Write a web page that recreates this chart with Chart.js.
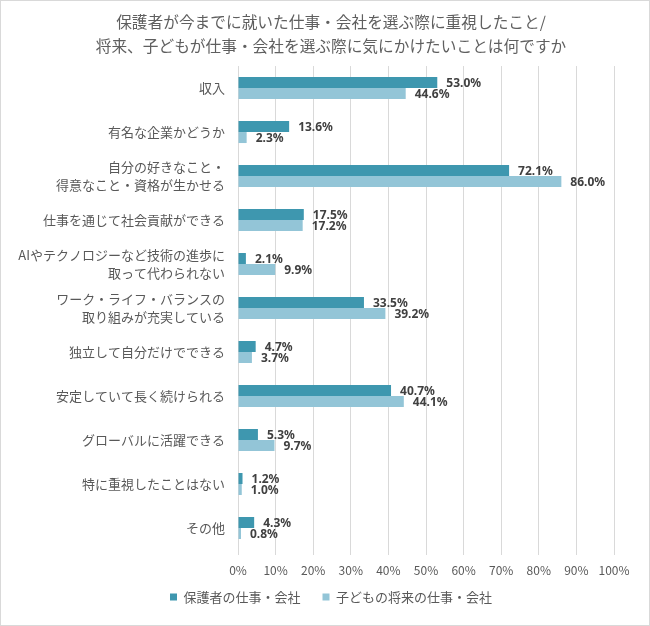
<!DOCTYPE html>
<html>
<head>
<meta charset="utf-8">
<script src="https://cdn.jsdelivr.net/npm/chart.js@4"></script>
<style>
  html, body { margin: 0; padding: 0; background: #fff; }
  #wrap { width: 650px; height: 626px; }
</style>
</head>
<body>
<div id="wrap"><canvas id="myChart" width="650" height="626"></canvas></div>
<script>
const ctx = document.getElementById('myChart');

const titleLines = [
    '保護者が今までに就いた仕事・会社を選ぶ際に重視したこと/',
    '将来、子どもが仕事・会社を選ぶ際に気にかけたいことは何ですか'
];

const categories = [
    '収入',
    '有名な企業かどうか',
    ['自分の好きなこと・', '得意なこと・資格が生かせる'],
    '仕事を通じて社会貢献ができる',
    ['AIやテクノロジーなど技術の進歩に', '取って代わられない'],
    ['ワーク・ライフ・バランスの', '取り組みが充実している'],
    '独立して自分だけでできる',
    '安定していて長く続けられる',
    'グローバルに活躍できる',
    '特に重視したことはない',
    'その他'
];

const seriesNames = ['保護者の仕事・会社', '子どもの将来の仕事・会社'];
const parentValues = [53.0, 13.6, 72.1, 17.5, 2.1, 33.5, 4.7, 40.7, 5.3, 1.2, 4.3];
const childValues = [44.6, 2.3, 86.0, 17.2, 9.9, 39.2, 3.7, 44.1, 9.7, 1.0, 0.8];

const tickValues = [0, 10, 20, 30, 40, 50, 60, 70, 80, 90, 100];

Chart.defaults.font.family = '"Noto Sans CJK JP", "Noto Sans", sans-serif';
Chart.defaults.color = '#595959';

// white background + thin gray frame
const frame = {
    id: 'frame',
    beforeDraw(chart) {
        const c = chart.ctx;
        c.save();
        c.fillStyle = '#ffffff';
        c.fillRect(0, 0, chart.width, chart.height);
        c.strokeStyle = '#d9d9d9';
        c.lineWidth = 1;
        c.strokeRect(0.5, 0.5, chart.width - 1, chart.height - 1);
        c.restore();
    }
};

// title and legend sit a bit right of the canvas centre in the original
const nudge = {
    id: 'nudge',
    afterLayout(chart) {
        const t = chart.titleBlock, l = chart.legend;
        t.left += 24; t.right += 24;
        l.left += 24; l.right += 24;
        l.top -= 11.5; l.bottom -= 11.5;
    }
};

// value labels to the right of each bar
const valueLabels = {
    id: 'valueLabels',
    afterDatasetsDraw(chart) {
        const c = chart.ctx;
        c.save();
        c.font = 'bold 12px "Noto Sans", "Noto Sans CJK JP", sans-serif';
        c.fillStyle = '#404040';
        c.textBaseline = 'middle';
        c.textAlign = 'left';
        chart.data.datasets.forEach((ds, i) => {
            chart.getDatasetMeta(i).data.forEach((bar, j) => {
                c.fillText(ds.data[j].toFixed(1) + '%', bar.x + 9, bar.y + 1);
            });
        });
        c.restore();
    }
};

const data = {
    labels: categories,
    datasets: [
        {
            label: seriesNames[0],
            data: parentValues,
            backgroundColor: '#3e97af',
            barPercentage: 1,
            categoryPercentage: 0.5
        },
        {
            label: seriesNames[1],
            data: childValues,
            backgroundColor: '#93c5d7',
            barPercentage: 1,
            categoryPercentage: 0.5
        }
    ]
};

const config = {
    type: 'bar',
    data: data,
    plugins: [frame, nudge, valueLabels],
    options: {
        indexAxis: 'y',
        responsive: false,
        animation: false,
        layout: {
            padding: { left: 0, right: 36, top: 10, bottom: 1 }
        },
        plugins: {
            title: {
                display: true,
                text: titleLines,
                color: '#5f5f5f',
                font: { size: 15.7, weight: 'normal', lineHeight: 1.53 },
                padding: { top: 0, bottom: 8 }
            },
            legend: {
                position: 'bottom',
                labels: {
                    boxWidth: 7,
                    boxHeight: 7,
                    padding: 22,
                    color: '#595959',
                    font: { size: 13 }
                }
            },
            tooltip: { enabled: false }
        },
        scales: {
            x: {
                min: 0,
                max: 100,
                afterBuildTicks(scale) {
                    scale.ticks = tickValues.map(v => ({ value: v }));
                },
                afterFit(scale) {
                    scale.height = 30;
                },
                grid: {
                    color: '#d9d9d9',
                    tickLength: 5
                },
                border: { display: false },
                ticks: {
                    color: '#595959',
                    padding: 8,
                    font: { size: 12 },
                    callback: v => v + '%'
                }
            },
            y: {
                afterFit(scale) {
                    scale.width = 238;
                },
                grid: { display: false },
                border: { display: false },
                ticks: {
                    color: '#595959',
                    padding: 5,
                    font: { size: 13, lineHeight: 1.35 }
                }
            }
        }
    }
};

new Chart(ctx, config);
</script>
</body>
</html>
